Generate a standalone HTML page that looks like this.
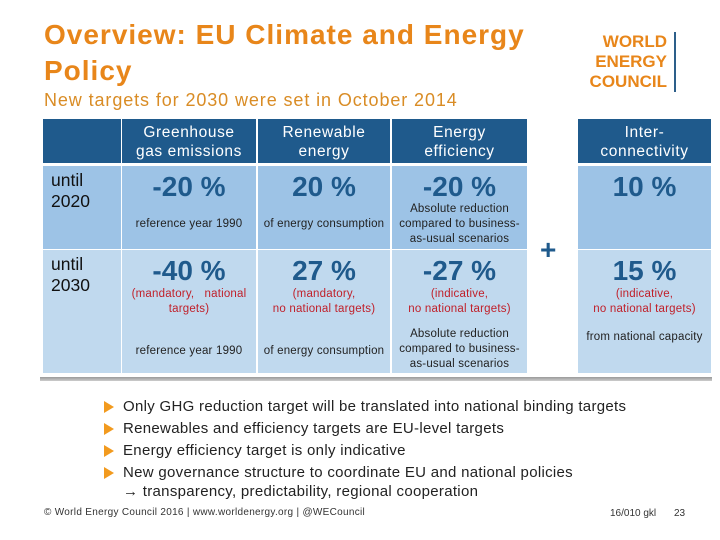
<!DOCTYPE html>
<html><head><meta charset="utf-8"><style>
body{margin:0;width:720px;height:540px;background:#fff;position:relative;overflow:hidden;font-family:"Liberation Sans",sans-serif}
div{position:absolute;box-sizing:border-box}
.t{color:#e8861a;font-size:28px;font-weight:bold;letter-spacing:1px;left:44px;line-height:36px;white-space:nowrap}
.hd{background:#1f5a8c;color:#fff;font-size:15.5px;text-align:center;line-height:19px;padding-top:4px;letter-spacing:.6px;white-space:nowrap}
.r1{background:#9dc3e6}.r2{background:#c0d9ee}
.big{color:#1f5a8c;font-size:28px;font-weight:bold;width:100%;text-align:center;white-space:nowrap}
.sm{color:#222;font-size:11.5px;width:100%;text-align:center;line-height:15px;white-space:nowrap;letter-spacing:.2px}
.red{color:#c0202a;font-size:11.5px;width:100%;text-align:center;line-height:15px;white-space:nowrap;letter-spacing:.2px}
.lab{font-size:17.5px;color:#111;left:8px;top:4px;line-height:21px}
.b{left:104px;font-size:15px;color:#222;line-height:18px;white-space:nowrap;letter-spacing:.3px}
.b::before{content:"";position:absolute;left:0;top:3px;border-left:10px solid #f29a1e;border-top:6px solid transparent;border-bottom:6px solid transparent}
.b span{padding-left:19px}
</style></head><body>
<div class="t" style="top:17px">Overview: EU Climate and Energy<br>Policy</div>
<div style="left:44px;top:90px;font-size:18px;letter-spacing:.9px;color:#d98c25;white-space:nowrap">New targets for 2030 were set in October 2014</div>
<div style="left:570px;top:32px;width:106px;color:#e8861a;font-weight:bold;font-size:17px;line-height:20px;text-align:right;padding-right:7px;border-right:2px solid #2d5f8a">WORLD<br>ENERGY<br>COUNCIL</div>

<div class="hd" style="left:43px;top:119px;width:78px;height:44px"></div>
<div class="hd" style="left:122px;top:119px;width:134px;height:44px">Greenhouse<br>gas emissions</div>
<div class="hd" style="left:258px;top:119px;width:132px;height:44px">Renewable<br>energy</div>
<div class="hd" style="left:392px;top:119px;width:135px;height:44px">Energy<br>efficiency</div>
<div class="hd" style="left:578px;top:119px;width:133px;height:44px">Inter-<br>connectivity</div>

<div class="r1" style="left:43px;top:166px;width:78px;height:83px"><div class="lab">until<br>2020</div></div>
<div class="r1" style="left:122px;top:166px;width:134px;height:83px"><div class="big" style="top:5px">-20 %</div><div class="sm" style="top:51px">reference year 1990</div></div>
<div class="r1" style="left:258px;top:166px;width:132px;height:83px"><div class="big" style="top:5px">20 %</div><div class="sm" style="top:51px">of energy consumption</div></div>
<div class="r1" style="left:392px;top:166px;width:135px;height:83px"><div class="big" style="top:5px">-20 %</div><div class="sm" style="top:36px">Absolute reduction<br>compared to business-<br>as-usual scenarios</div></div>
<div class="r1" style="left:578px;top:166px;width:133px;height:83px"><div class="big" style="top:5px">10 %</div></div>

<div class="r2" style="left:43px;top:250px;width:78px;height:123px"><div class="lab">until<br>2030</div></div>
<div class="r2" style="left:122px;top:250px;width:134px;height:123px"><div class="big" style="top:5px">-40 %</div><div class="red" style="top:37px">(mandatory, &nbsp; national<br>targets)</div><div class="sm" style="top:94px">reference year 1990</div></div>
<div class="r2" style="left:258px;top:250px;width:132px;height:123px"><div class="big" style="top:5px">27 %</div><div class="red" style="top:37px">(mandatory,<br>no national targets)</div><div class="sm" style="top:94px">of energy consumption</div></div>
<div class="r2" style="left:392px;top:250px;width:135px;height:123px"><div class="big" style="top:5px">-27 %</div><div class="red" style="top:37px">(indicative,<br>no national targets)</div><div class="sm" style="top:77px">Absolute reduction<br>compared to business-<br>as-usual scenarios</div></div>
<div class="r2" style="left:578px;top:250px;width:133px;height:123px"><div class="big" style="top:5px">15 %</div><div class="red" style="top:37px">(indicative,<br>no national targets)</div><div class="sm" style="top:80px">from national capacity</div></div>

<div style="left:540px;top:234px;font-size:28px;font-weight:bold;color:#1f5a8c">+</div>
<div style="left:40px;top:377px;width:672px;height:4px;background:linear-gradient(#999,#ccc)"></div>

<div class="b" style="top:398px"><span>Only GHG reduction target will be translated into national binding targets</span></div>
<div class="b" style="top:420px"><span>Renewables and efficiency targets are EU-level targets</span></div>
<div class="b" style="top:442px"><span>Energy efficiency target is only indicative</span></div>
<div class="b" style="top:464px"><span>New governance structure to coordinate EU and national policies</span></div>
<div style="left:123px;top:483px;font-size:15px;letter-spacing:.3px;color:#222;line-height:18px;white-space:nowrap">→ transparency, predictability, regional cooperation</div>

<div style="left:44px;top:507px;font-size:10px;letter-spacing:.3px;color:#333;white-space:nowrap">© World Energy Council 2016 | www.worldenergy.org | @WECouncil</div>
<div style="left:610px;top:508px;font-size:10px;color:#333">16/010 gkl</div>
<div style="left:674px;top:508px;font-size:10px;color:#333">23</div>
</body></html>
